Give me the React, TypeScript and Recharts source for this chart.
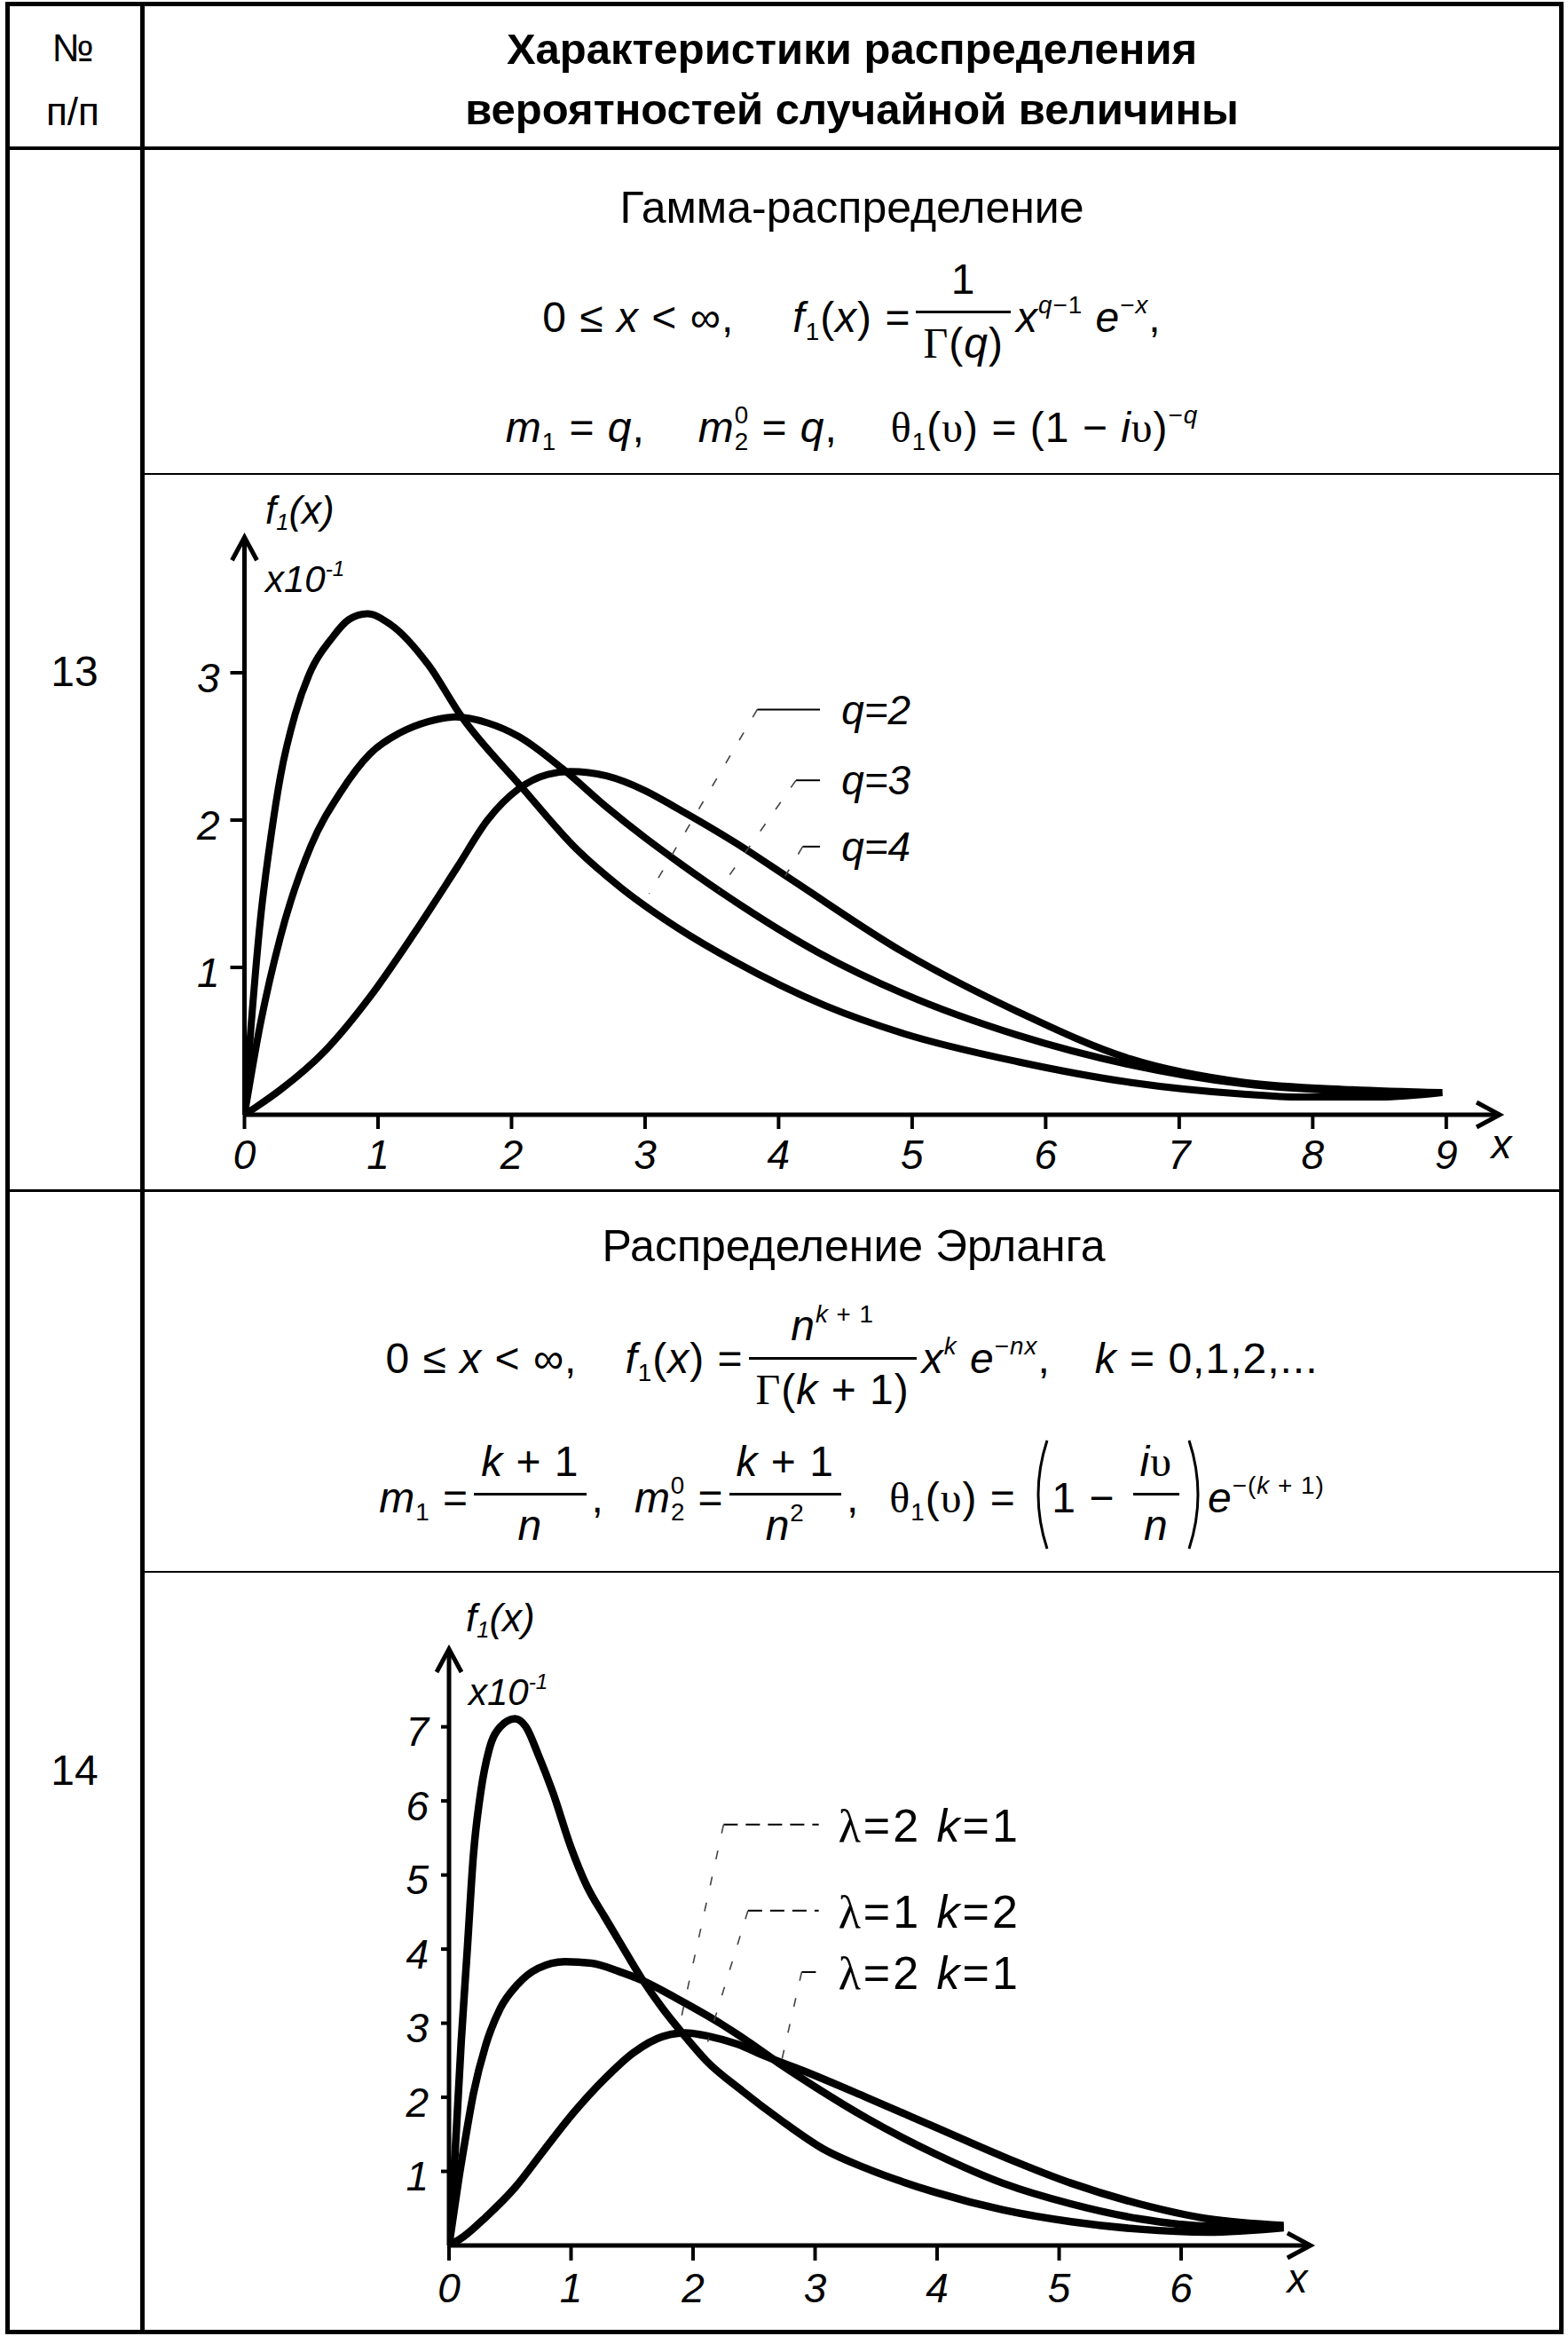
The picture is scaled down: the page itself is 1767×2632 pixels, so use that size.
import React from 'react';
import { LineChart, Line, XAxis, YAxis, ReferenceLine, ReferenceDot } from 'recharts';

const SANS = "'Liberation Sans', Arial, Helvetica, sans-serif";
const SERIF = "'Liberation Serif', 'Times New Roman', serif";

// ---------------- Row 13: Gamma distribution (values x10^-1) ----------------
const gammaXTicks = [0, 1, 2, 3, 4, 5, 6, 7, 8, 9];
const gammaYTicks = [1, 2, 3];
const gammaQ2X = [0, 0.05, 0.12, 0.2, 0.27, 0.38, 0.5, 0.65, 0.78, 0.92, 1.09, 1.38, 1.62, 2.07, 2.49, 2.82, 3.24, 3.67, 4.35, 4.94, 5.79, 6.63, 7.48, 7.9, 8.5, 8.97];
const gammaQ2Y = [0, 0.61, 1.33, 1.9, 2.3, 2.72, 3.02, 3.23, 3.36, 3.4, 3.33, 3.05, 2.71, 2.23, 1.8, 1.54, 1.27, 1.04, 0.74, 0.55, 0.36, 0.22, 0.14, 0.12, 0.12, 0.15];
const gammaQ3X = [0, 0.12, 0.27, 0.5, 0.72, 0.94, 1.16, 1.38, 1.58, 1.82, 2.05, 2.38, 2.71, 3.0, 3.24, 3.67, 4.3, 4.94, 5.79, 6.63, 7.48, 8.3, 8.97];
const gammaQ3Y = [0, 0.62, 1.21, 1.83, 2.19, 2.45, 2.59, 2.67, 2.7, 2.66, 2.57, 2.35, 2.09, 1.88, 1.72, 1.45, 1.1, 0.82, 0.54, 0.34, 0.21, 0.16, 0.15];
const gammaQ4X = [0, 0.1, 0.27, 0.61, 0.94, 1.27, 1.6, 1.82, 2.05, 2.27, 2.44, 2.71, 3.0, 3.24, 3.67, 4.09, 4.94, 5.79, 6.63, 7.48, 8.3, 8.97];
const gammaQ4Y = [0, 0.06, 0.17, 0.44, 0.8, 1.23, 1.69, 2.0, 2.21, 2.31, 2.33, 2.3, 2.2, 2.08, 1.85, 1.6, 1.1, 0.7, 0.38, 0.22, 0.17, 0.15];
const gammaLabels = ['q=2', 'q=3', 'q=4'];
// legend keys (data coordinates)
const gammaKeyY = [2.75, 2.27, 1.82];
const gammaKeyStartX = [3.84, 4.13, 4.18];
const gammaLeaderEndX = [3.03, 3.55, 4.05];
const gammaLeaderEndY = [1.5, 1.52, 1.62];

// ---------------- Row 14: Erlang distribution (values x10^-1) ----------------
const erlangXTicks = [0, 1, 2, 3, 4, 5, 6];
const erlangYTicks = [1, 2, 3, 4, 5, 6, 7];
const erlangAX = [0, 0.05, 0.1, 0.15, 0.2, 0.26, 0.33, 0.42, 0.54, 0.63, 0.73, 0.85, 1.0, 1.13, 1.27, 1.39, 1.58, 1.75, 1.92, 2.11, 2.4, 2.72, 3.08, 3.42, 3.98, 4.54, 5.1, 5.66, 6.22, 6.84];
const erlangAY = [0, 1.25, 2.75, 4.0, 5.27, 6.12, 6.7, 7.0, 7.11, 7.0, 6.63, 6.12, 5.37, 4.85, 4.45, 4.12, 3.6, 3.2, 2.85, 2.49, 2.09, 1.69, 1.29, 1.04, 0.72, 0.48, 0.32, 0.22, 0.18, 0.24];
const erlangBX = [0, 0.04, 0.08, 0.13, 0.2, 0.3, 0.42, 0.56, 0.73, 0.95, 1.17, 1.39, 1.58, 1.87, 2.24, 2.48, 2.72, 3.0, 3.42, 3.98, 4.54, 5.1, 5.66, 6.22, 6.84];
const erlangBY = [0, 0.45, 0.9, 1.4, 2.05, 2.7, 3.2, 3.52, 3.74, 3.83, 3.81, 3.7, 3.58, 3.33, 2.98, 2.72, 2.44, 2.14, 1.72, 1.24, 0.84, 0.56, 0.36, 0.26, 0.25];
const erlangCX = [0, 0.12, 0.3, 0.54, 0.78, 1.02, 1.27, 1.51, 1.75, 1.94, 2.14, 2.36, 2.6, 2.9, 3.42, 3.98, 4.54, 5.1, 5.66, 6.22, 6.84];
const erlangCY = [0, 0.12, 0.38, 0.78, 1.29, 1.79, 2.24, 2.6, 2.82, 2.87, 2.82, 2.72, 2.55, 2.36, 2.0, 1.6, 1.2, 0.84, 0.56, 0.36, 0.27];
const erlangLambda = ['2', '1', '2'];
const erlangK = ['1', '2', '1'];
const erlangKeyY = [5.68, 4.52, 3.69];
const erlangKeyStartX = [2.25, 2.45, 2.89];
const erlangLeaderEndX = [1.88, 2.12, 2.72];
const erlangLeaderEndY = [2.9, 2.75, 2.45];

const toPoints = (xs: number[], ys: number[]) => xs.map((x, i) => ({ x, y: ys[i] }));

const ArrowRight = (p: any) => (
  <path d={`M${p.cx - 26},${p.cy - 14} L${p.cx},${p.cy} L${p.cx - 26},${p.cy + 14}`} fill="none" stroke="#000" strokeWidth={5} />
);
const ArrowUp = (p: any) => (
  <path d={`M${p.cx - 14},${p.cy + 26} L${p.cx},${p.cy} L${p.cx + 14},${p.cy + 26}`} fill="none" stroke="#000" strokeWidth={5} />
);

const TICK_FS = 46;
const XTick = (p: any) => (
  <text x={p.x} y={p.y} dy={TICK_FS * 0.72} textAnchor="middle" fontFamily={SANS} fontStyle="italic" fontSize={TICK_FS} fill="#000">
    {p.payload.value}
  </text>
);
const YTick = (p: any) => (
  <text x={p.x} y={p.y} dy={TICK_FS * 0.36 + 5} textAnchor="end" fontFamily={SANS} fontStyle="italic" fontSize={TICK_FS} fill="#000">
    {p.payload.value}
  </text>
);

type PlotProps = {
  left: number; top: number; width: number; height: number;
  margin: { top: number; right: number; bottom: number; left: number };
  xMax: number; yMax: number; xTicks: number[]; yTicks: number[];
  series: { x: number; y: number }[][]; stroke: number;
  yTickSize: number; yTickMargin: number; xTickSize: number; xTickMargin: number;
  keyY: number[]; keyStartX: number[]; keyEndX: number; keyDash?: string;
  leaderX: number[]; leaderY: number[]; labelX: number;
  renderLabel: (i: number, cx: number, cy: number) => React.ReactElement;
};

function Plot(props: PlotProps) {
  const {
    left, top, width, height, margin, xMax, yMax, xTicks, yTicks, series, stroke,
    yTickSize, yTickMargin, xTickSize, xTickMargin, keyY, keyStartX, keyEndX, keyDash,
    leaderX, leaderY, labelX, renderLabel,
  } = props;
  return (
    <div style={{ position: 'absolute', left, top }}>
      <LineChart width={width} height={height} margin={margin}>
        <XAxis
          type="number" dataKey="x" domain={[0, xMax]} allowDataOverflow ticks={xTicks} interval={0}
          height={70} tickSize={xTickSize} tickMargin={xTickMargin}
          axisLine={{ stroke: '#000', strokeWidth: 5 }} tickLine={{ stroke: '#000', strokeWidth: 4 }}
          tick={(p: any) => <XTick {...p} />}
        />
        <YAxis
          type="number" domain={[0, yMax]} allowDataOverflow ticks={yTicks} interval={0}
          width={70} tickSize={yTickSize} tickMargin={yTickMargin}
          axisLine={{ stroke: '#000', strokeWidth: 5 }} tickLine={{ stroke: '#000', strokeWidth: 4 }}
          tick={(p: any) => <YTick {...p} />}
        />
        {series.map((d, i) => (
          <Line key={'s' + i} data={d} dataKey="y" type="monotone" stroke="#000" strokeWidth={stroke}
            dot={false} activeDot={false} isAnimationActive={false} />
        ))}
        {keyY.map((y, i) => (
          <ReferenceLine key={'k' + i} segment={[{ x: keyStartX[i], y }, { x: keyEndX, y }]}
            stroke="#000" strokeWidth={2} strokeDasharray={keyDash} />
        ))}
        {keyY.map((y, i) => (
          <ReferenceLine key={'l' + i} segment={[{ x: keyStartX[i], y }, { x: leaderX[i], y: leaderY[i] }]}
            stroke="#444" strokeWidth={1.6} strokeDasharray="10 20" />
        ))}
        {keyY.map((y, i) => (
          <ReferenceDot key={'t' + i} x={labelX} y={y} r={1} ifOverflow="visible"
            shape={(p: any) => renderLabel(i, p.cx, p.cy)} />
        ))}
        <ReferenceDot x={xMax} y={0} r={1} ifOverflow="visible" shape={ArrowRight} />
        <ReferenceDot x={0} y={yMax} r={1} ifOverflow="visible" shape={ArrowUp} />
      </LineChart>
    </div>
  );
}

// ---------- text helpers ----------
const I = ({ children }: any) => <span style={{ fontStyle: 'italic' }}>{children}</span>;
const G = ({ children }: any) => <span style={{ fontFamily: SERIF }}>{children}</span>;
const Sup = ({ children, ml }: any) => (
  <span style={{ fontSize: '0.58em', position: 'relative', top: '-0.75em', marginLeft: ml }}>{children}</span>
);
const Sub = ({ children }: any) => (
  <span style={{ fontSize: '0.58em', position: 'relative', top: '0.3em' }}>{children}</span>
);
const SubSup = ({ sub, sup }: any) => (
  <>
    <Sub>{sub}</Sub>
    <Sup ml="-0.6em">{sup}</Sup>
  </>
);
const Gap = ({ w }: any) => <span style={{ display: 'inline-block', width: w }} />;
const Frac = ({ num, den, dy = -10, pad = 8 }: any) => (
  <span style={{ display: 'inline-flex', flexDirection: 'column', alignItems: 'center', verticalAlign: 'middle', position: 'relative', top: dy, margin: '0 6px', lineHeight: 1.1 }}>
    <span style={{ padding: `0 8px ${pad}px` }}>{num}</span>
    <span style={{ alignSelf: 'stretch', height: 3, background: '#000' }} />
    <span style={{ padding: `${pad}px 8px 0` }}>{den}</span>
  </span>
);
const BigParen = ({ side }: any) => (
  <svg width={26} height={128} style={{ verticalAlign: 'middle', position: 'relative', top: -8 }}>
    <path d={side === 'l' ? 'M21,3 Q1,64 21,125' : 'M5,3 Q25,64 5,125'} stroke="#000" strokeWidth={3} fill="none" />
  </svg>
);

const MathRow = ({ baseline, fs = 48, children }: any) => (
  <div style={{
    position: 'absolute', left: 160, width: 1600, top: baseline - 100 - 0.3465 * fs, height: 200,
    lineHeight: '200px', textAlign: 'center', fontFamily: SANS, fontSize: fs, whiteSpace: 'pre', color: '#000',
    letterSpacing: 1,
  }}>
    {children}
  </div>
);

const Txt = ({ x, baseline, fs, anchor = 'start', bold = false, italic = false, children }: any) => {
  const W = 1400;
  const left = anchor === 'start' ? x : anchor === 'middle' ? x - W / 2 : x - W;
  return (
    <div style={{
      position: 'absolute', left, width: W, top: baseline - 0.8465 * fs, lineHeight: `${fs}px`,
      fontSize: fs, fontFamily: SANS, fontWeight: bold ? 700 : 400, fontStyle: italic ? 'italic' : 'normal',
      textAlign: anchor === 'start' ? 'left' : anchor === 'middle' ? 'center' : 'right', whiteSpace: 'pre', color: '#000',
    }}>
      {children}
    </div>
  );
};

const HLine = ({ x1, x2, y, w }: any) => (
  <div style={{ position: 'absolute', left: x1, width: x2 - x1, top: y - w / 2, height: w, background: '#000' }} />
);
const VLine = ({ x, y1, y2, w }: any) => (
  <div style={{ position: 'absolute', left: x - w / 2, width: w, top: y1, height: y2 - y1, background: '#000' }} />
);

export default function App() {
  const gammaSeries = [toPoints(gammaQ2X, gammaQ2Y), toPoints(gammaQ3X, gammaQ3Y), toPoints(gammaQ4X, gammaQ4Y)];
  const erlangSeries = [toPoints(erlangAX, erlangAY), toPoints(erlangBX, erlangBY), toPoints(erlangCX, erlangCY)];

  return (
    <div style={{ position: 'absolute', left: 0, top: 0, width: 1767, height: 2632, background: '#fff', overflow: 'hidden' }}>
      {/* table frame */}
      <HLine x1={6} x2={1762} y={4} w={5} />
      <HLine x1={6} x2={1762} y={2627} w={5} />
      <VLine x={8} y1={2} y2={2629} w={5} />
      <VLine x={1759} y1={2} y2={2629} w={5} />
      <VLine x={160} y1={2} y2={2629} w={5} />
      <HLine x1={6} x2={1762} y={167} w={4} />
      <HLine x1={6} x2={1762} y={1341} w={3} />
      <HLine x1={160} x2={1762} y={534} w={2} />
      <HLine x1={160} x2={1762} y={1771} w={2} />

      {/* header */}
      <Txt x={82} baseline={69} fs={44} anchor="middle">№</Txt>
      <Txt x={82} baseline={141} fs={44} anchor="middle">п/п</Txt>
      <Txt x={960} baseline={72} fs={49} anchor="middle" bold>Характеристики распределения</Txt>
      <Txt x={960} baseline={140} fs={49} anchor="middle" bold>вероятностей случайной величины</Txt>

      {/* row numbers */}
      <Txt x={84} baseline={774} fs={48} anchor="middle">13</Txt>
      <Txt x={84} baseline={2012} fs={48} anchor="middle">14</Txt>

      {/* Row 13 formulas */}
      <Txt x={960} baseline={251} fs={50} anchor="middle">Гамма-распределение</Txt>
      <MathRow baseline={375}>
        <span>{'0 ≤ '}</span><I>x</I><span>{' < ∞,'}</span>
        <Gap w={66} />
        <I>f</I><Sub>1</Sub><span>(</span><I>x</I><span>{') ='}</span>
        <Frac dy={-10} num={<span>1</span>} den={<span><G>Γ</G>(<I>q</I>)</span>} />
        <I>x</I><Sup><I>q</I>{'−1'}</Sup><span>{' '}</span><I>e</I><Sup>{'−'}<I>x</I></Sup><span>,</span>
      </MathRow>
      <MathRow baseline={499}>
        <I>m</I><Sub>1</Sub><span>{' = '}</span><I>q</I><span>,</span>
        <Gap w={60} />
        <I>m</I><SubSup sub="2" sup="0" /><span>{' = '}</span><I>q</I><span>,</span>
        <Gap w={60} />
        <G>θ</G><Sub>1</Sub><span>(</span><G>υ</G><span>{') = (1 − '}</span><I>i</I><G>υ</G><span>)</span><Sup>{'−'}<I>q</I></Sup>
      </MathRow>

      {/* Row 13 chart */}
      <Plot
        left={165} top={540} width={1590} height={795}
        margin={{ top: 65.3, right: 65, bottom: 9, left: 40.5 }}
        xMax={9.4} yMax={3.92} xTicks={gammaXTicks} yTicks={gammaYTicks}
        series={gammaSeries} stroke={8}
        yTickSize={16} yTickMargin={12} xTickSize={16} xTickMargin={12}
        keyY={gammaKeyY} keyStartX={gammaKeyStartX} keyEndX={4.31}
        leaderX={gammaLeaderEndX} leaderY={gammaLeaderEndY} labelX={4.47}
        renderLabel={(i, cx, cy) => (
          <text x={cx} y={cy} dy={16} fontFamily={SANS} fontStyle="italic" fontSize={46} fill="#000">{gammaLabels[i]}</text>
        )}
      />
      <Txt x={299} baseline={590} fs={44} italic>f<Sub>1</Sub>(x)</Txt>
      <Txt x={299} baseline={668} fs={42} italic>x10<Sup>-1</Sup></Txt>
      <Txt x={1692} baseline={1305} fs={46} anchor="middle" italic>x</Txt>

      {/* Row 14 formulas */}
      <Txt x={962} baseline={1421} fs={50} anchor="middle">Распределение Эрланга</Txt>
      <MathRow baseline={1548}>
        <span>{'0 ≤ '}</span><I>x</I><span>{' < ∞,'}</span>
        <Gap w={54} />
        <I>f</I><Sub>1</Sub><span>(</span><I>x</I><span>{') ='}</span>
        <Frac dy={-4} num={<span><I>n</I><Sup><I>k</I>{' + 1'}</Sup></span>} den={<span><G>Γ</G>(<I>k</I>{' + 1)'}</span>} />
        <I>x</I><Sup><I>k</I></Sup><span>{' '}</span><I>e</I><Sup>{'−'}<I>nx</I></Sup><span>,</span>
        <Gap w={50} />
        <I>k</I><span>{' = 0,1,2,...'}</span>
      </MathRow>
      <MathRow baseline={1705}>
        <I>m</I><Sub>1</Sub><span>{' ='}</span>
        <Frac dy={-8} num={<span><I>k</I>{' + 1'}</span>} den={<I>n</I>} />
        <span>,</span>
        <Gap w={34} />
        <I>m</I><SubSup sub="2" sup="0" /><span>{' ='}</span>
        <Frac dy={-8} num={<span><I>k</I>{' + 1'}</span>} den={<span><I>n</I><Sup>2</Sup></span>} />
        <span>,</span>
        <Gap w={34} />
        <G>θ</G><Sub>1</Sub><span>(</span><G>υ</G><span>{') = '}</span>
        <BigParen side="l" />
        <span>{'1 − '}</span>
        <Frac dy={-8} num={<span><I>i</I><G>υ</G></span>} den={<I>n</I>} />
        <BigParen side="r" />
        <I>e</I><Sup>{'−('}<I>k</I>{' + 1)'}</Sup>
      </MathRow>

      {/* Row 14 chart */}
      <Plot
        left={165} top={1775} width={1590} height={850}
        margin={{ top: 83, right: 278.2, bottom: 25, left: 271 }}
        xMax={7.06} yMax={8.05} xTicks={erlangXTicks} yTicks={erlangYTicks}
        series={erlangSeries} stroke={8.5}
        yTickSize={9} yTickMargin={14} xTickSize={17} xTickMargin={14}
        keyY={erlangKeyY} keyStartX={erlangKeyStartX} keyEndX={3.03} keyDash="16 9"
        leaderX={erlangLeaderEndX} leaderY={erlangLeaderEndY} labelX={3.19}
        renderLabel={(i, cx, cy) => (
          <text x={cx} y={cy} dy={19} fontFamily={SANS} fontSize={52} letterSpacing={3} fill="#000">
            <tspan fontFamily={SERIF}>λ</tspan>
            <tspan>{'=' + erlangLambda[i] + ' '}</tspan>
            <tspan fontStyle="italic">k</tspan>
            <tspan>{'=' + erlangK[i]}</tspan>
          </text>
        )}
      />
      <Txt x={525} baseline={1838} fs={44} italic>f<Sub>1</Sub>(x)</Txt>
      <Txt x={528} baseline={1922} fs={42} italic>x10<Sup>-1</Sup></Txt>
      <Txt x={1462} baseline={2583} fs={46} anchor="middle" italic>x</Txt>
    </div>
  );
}
